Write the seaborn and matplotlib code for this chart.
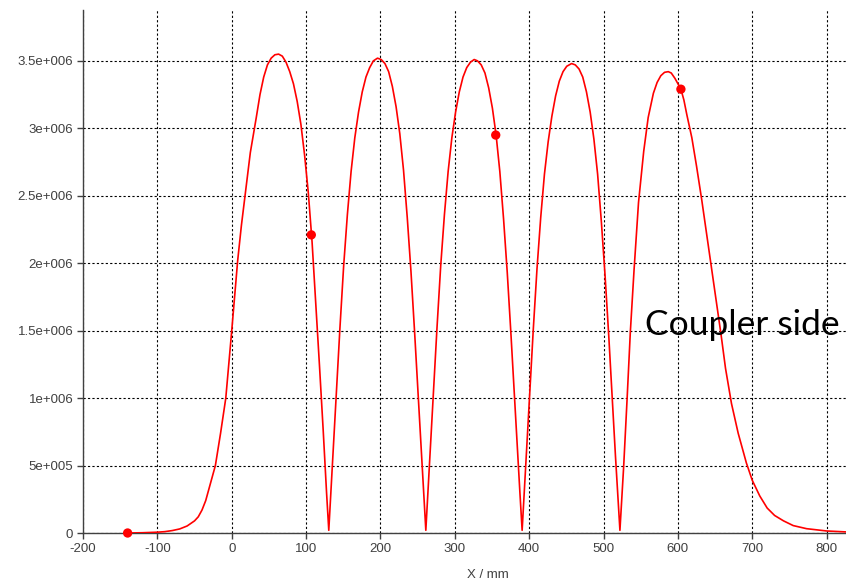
import matplotlib
matplotlib.use("Agg")
import matplotlib.pyplot as plt
import seaborn as sns
import pandas as pd

# ---- data ----
x_mm = [-140, -120, -100, -90, -80, -70, -60, -50, -45, -40, -35, -29, -22, -15, -8, -4, 0, 4, 8,
        13, 19, 25, 33, 38, 43, 48, 53, 58, 63, 68, 73, 78, 83, 88, 93, 98, 103, 108, 113, 118,
        123, 127.5, 130.5,
        133.5, 135.5, 140.5, 145.5, 150.5, 155.5, 160.5, 165.5, 170.5, 175.5, 180.5, 185.5,
        190.5, 196, 201, 206, 211, 216, 221, 226, 231, 236, 241, 246, 251, 255, 258, 261,
        264, 266, 271, 276, 281, 286, 291, 296, 301, 306, 311, 316, 321, 326, 330.5, 335.5,
        340.5, 345.5, 350.5, 355.5, 360.5, 365.5, 370.5, 375.5, 380.5, 384.5, 387.5, 390.5,
        393.5, 395.5, 400.5, 405.5, 410.5, 415.5, 420.5, 425.5, 430.5, 435.5, 440.5, 445.5,
        450.5, 457, 462, 467, 472, 477, 482, 487, 492, 497, 502, 507, 512, 516, 519, 522,
        525, 527, 531.7, 536, 541, 547, 554, 560, 567, 572, 577, 582, 587, 591, 596, 600, 604,
        608, 612, 618.7, 625, 632, 639, 645.5, 652, 658, 664, 672, 681, 692, 700, 710, 720,
        730, 742, 755, 773, 800, 826]
field_e6 = [0.000, 0.002, 0.006, 0.010, 0.018, 0.030, 0.052, 0.090, 0.120, 0.170, 0.240, 0.360,
            0.500, 0.740, 1.000, 1.250, 1.500, 1.760, 2.020,
            2.280, 2.550, 2.820, 3.080, 3.250, 3.380, 3.470, 3.520, 3.545, 3.550, 3.535, 3.490,
            3.420, 3.330, 3.200, 3.030, 2.800, 2.520, 2.160, 1.700, 1.240,
            0.760, 0.300, 0.020,
            0.320, 0.520, 1.020, 1.520, 1.980, 2.360, 2.680, 2.930, 3.120, 3.270, 3.380, 3.450,
            3.500, 3.520, 3.510, 3.480, 3.420, 3.310, 3.160, 2.960, 2.690, 2.340, 1.940, 1.480,
            0.990, 0.590, 0.300, 0.020,
            0.320, 0.520, 1.020, 1.520, 1.980, 2.360, 2.680, 2.930, 3.120, 3.270, 3.380, 3.450,
            3.490, 3.510, 3.500, 3.470,
            3.410, 3.300, 3.150, 2.950, 2.680, 2.330, 1.930, 1.470, 0.980, 0.580, 0.300, 0.020,
            0.320, 0.520, 1.010, 1.510, 1.960, 2.340, 2.660, 2.900, 3.090, 3.240, 3.350, 3.420,
            3.460, 3.480, 3.470, 3.440, 3.380, 3.270, 3.120, 2.920, 2.660, 2.310, 1.910, 1.460,
            0.970, 0.570, 0.300, 0.020,
            0.310, 0.490, 1.000, 1.490, 1.950, 2.450, 2.830, 3.080, 3.260, 3.340, 3.390, 3.415,
            3.420, 3.410, 3.370, 3.330, 3.290,
            3.210, 3.100, 2.930, 2.720, 2.470, 2.200, 1.950, 1.700, 1.470, 1.220, 0.960, 0.740,
            0.520, 0.390, 0.275, 0.185,
            0.130, 0.090, 0.055, 0.032, 0.015, 0.008]
marker_x = [-140, 107, 355, 604]
marker_e6 = [0.0, 2.21, 2.95, 3.29]

x_ticks = [-200, -100, 0, 100, 200, 300, 400, 500, 600, 700, 800]
y_ticks_e6 = [0, 0.5, 1.0, 1.5, 2.0, 2.5, 3.0, 3.5]
y_tick_labels = ["0", "5e+005", "1e+006", "1.5e+006", "2e+006", "2.5e+006", "3e+006", "3.5e+006"]
annotation = "Coupler side"
x_label = "X / mm"

curve = pd.DataFrame({"x": x_mm, "E": [v * 1e6 for v in field_e6]})
marks = pd.DataFrame({"x": marker_x, "E": [v * 1e6 for v in marker_e6]})

sns.set_style("white")
plt.rcParams["font.family"] = ["Liberation Sans", "DejaVu Sans"]
plt.rcParams["axes.unicode_minus"] = False

fig = plt.figure(figsize=(8.46, 5.80), dpi=100)
ax = fig.add_axes([83 / 846, 47 / 580, 1 - 83 / 846, 523 / 580])

sns.lineplot(data=curve, x="x", y="E", ax=ax, color="#ff0000", linewidth=1.2,
             estimator=None, sort=False, zorder=3)
for ln in ax.lines:
    ln.set_solid_joinstyle("round")
sns.scatterplot(data=marks, x="x", y="E", ax=ax, color="#ff0000", s=45,
                edgecolor="none", zorder=4, clip_on=False)

ax.set_xlim(-200, 826)
ax.set_ylim(0, 3.877e6)
ax.set_xticks(x_ticks)
ax.set_yticks([v * 1e6 for v in y_ticks_e6])
ax.set_yticklabels(y_tick_labels)

ax.grid(True, color="black", linestyle=(0, (2, 2)), linewidth=0.8)
ax.set_axisbelow(True)

for side in ["top", "right"]:
    ax.spines[side].set_visible(False)
for side in ["left", "bottom"]:
    ax.spines[side].set_color("#404040")
    ax.spines[side].set_linewidth(1.0)

ax.tick_params(axis="both", which="major", direction="out", length=4, width=1,
               color="#404040", labelcolor="#404040", labelsize=9.5, pad=3,
               left=True, bottom=True)

ax.set_xlabel(x_label, fontsize=9.5, color="#404040")
ax.xaxis.set_label_coords(0.531, -0.068)
ax.set_ylabel("")

ax.text(556, 1.468e6, annotation, fontsize=25.5, family=["Lato", "DejaVu Sans"],
        color="black", ha="left", va="baseline", zorder=5)

fig.savefig("out.png", dpi=100)
